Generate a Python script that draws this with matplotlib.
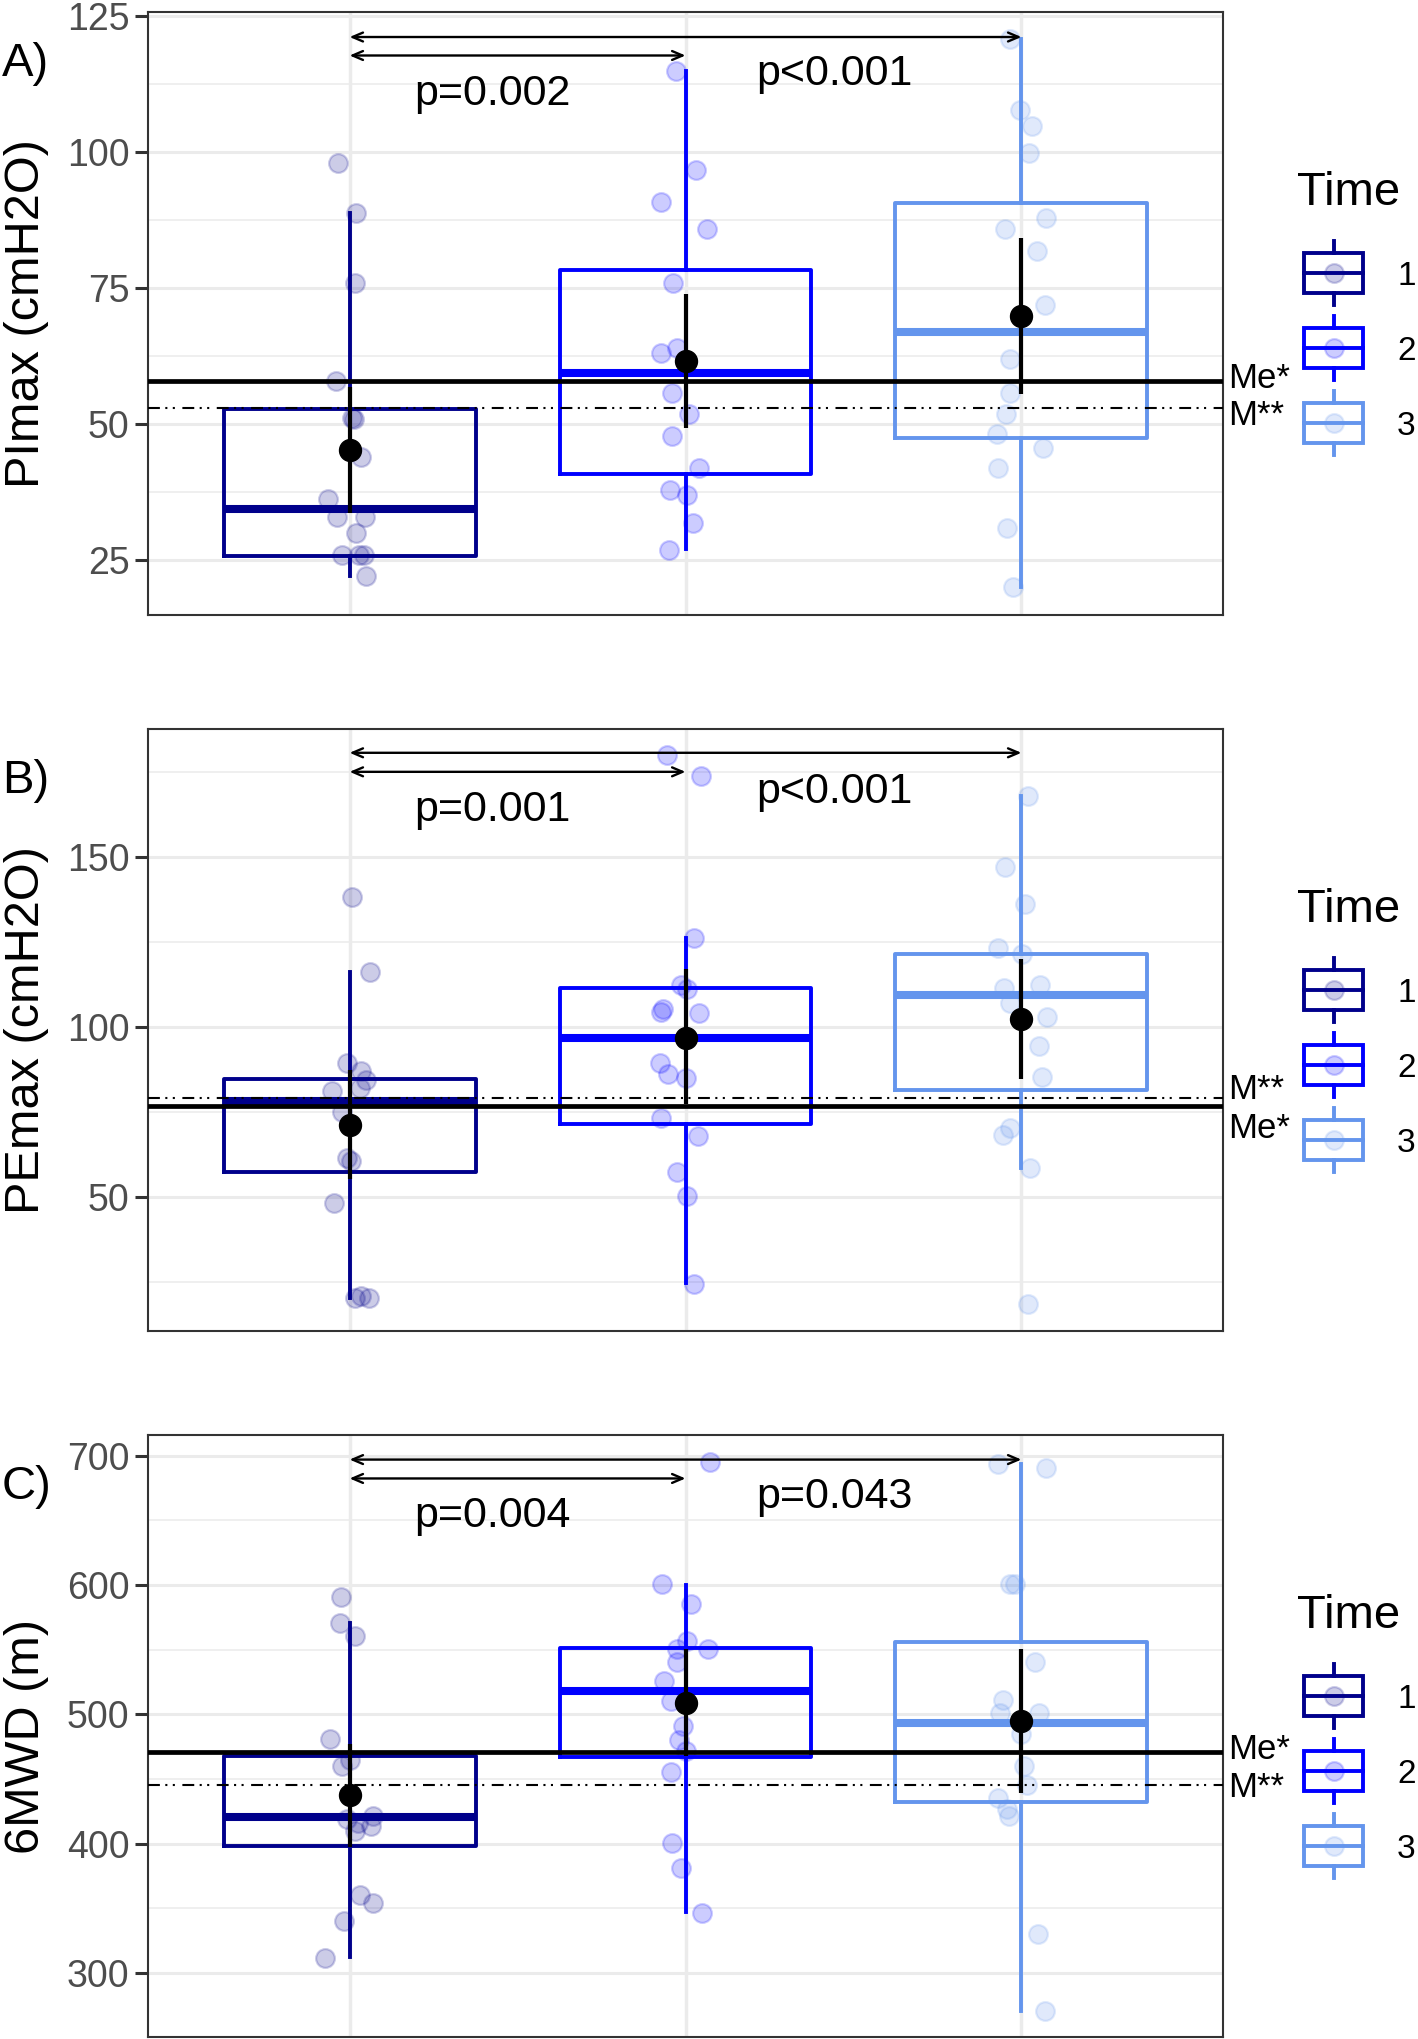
import numpy as np
import matplotlib
matplotlib.use("Agg")
import matplotlib.pyplot as plt
from matplotlib.patches import Rectangle
from matplotlib.transforms import blended_transform_factory

plt.rcParams['font.family'] = ['Liberation Sans', 'DejaVu Sans']

# Groups (Time) and colours
times = ["1", "2", "3"]
time_colors = ["#00008B", "#0000FF", "#6495ED"]

# A) PImax (cmH2O) - individual patients, with horizontal jitter
pimax_t1 = [98.0, 88.8, 75.8, 57.8, 51.0, 50.8, 43.8, 36.1, 32.8, 32.8, 29.8, 25.9, 25.9, 25.9, 21.9]
pimax_t1_jit = [-0.034, 0.019, 0.016, -0.040, 0.008, 0.013, 0.033, -0.065, -0.038, 0.046, 0.019, -0.023, 0.028, 0.042, 0.050]
pimax_t2 = [114.8, 96.7, 90.8, 85.8, 75.8, 62.9, 63.9, 55.7, 51.7, 47.8, 41.9, 37.7, 36.8, 31.8, 26.8]
pimax_t2_jit = [-0.028, 0.030, -0.074, 0.065, -0.037, -0.074, -0.025, -0.040, 0.011, -0.040, 0.040, -0.046, 0.003, 0.021, -0.049]
pimax_t3 = [120.8, 107.7, 104.7, 99.8, 87.8, 85.8, 81.8, 71.8, 61.8, 55.7, 51.7, 48.0, 45.6, 41.9, 30.8, 19.9]
pimax_t3_jit = [-0.035, -0.005, 0.031, 0.023, 0.072, -0.048, 0.046, 0.069, -0.035, -0.033, -0.046, -0.073, 0.065, -0.071, -0.043, -0.024]
pimax_whislo = [22.0, 27.0, 19.9]
pimax_q1 = [25.7, 40.8, 47.3]
pimax_med = [34.3, 59.3, 66.9]
pimax_q3 = [52.6, 78.3, 90.6]
pimax_whishi = [88.8, 114.8, 120.8]
pimax_mean = [45.2, 61.6, 69.8]
pimax_ci_lo = [33.6, 49.2, 55.4]
pimax_ci_hi = [56.8, 73.9, 84.2]
pimax_me = 57.9
pimax_m = 52.8
pimax_p = ["p=0.002", "p<0.001"]

# B) PEmax (cmH2O)
pemax_t1 = [138.1, 116.2, 89.2, 86.9, 84.3, 82.0, 81.2, 75.0, 61.3, 60.5, 48.3, 20.8, 20.3, 20.3]
pemax_t1_jit = [0.007, 0.060, -0.007, 0.033, 0.050, 0.030, -0.052, -0.023, -0.007, 0.004, -0.046, 0.034, 0.015, 0.057]
pemax_t2 = [180.0, 173.8, 126.0, 112.4, 111.0, 105.2, 104.4, 104.1, 89.2, 86.0, 84.9, 73.3, 68.0, 57.3, 50.2, 24.4]
pemax_t2_jit = [-0.056, 0.045, 0.024, -0.013, 0.004, -0.066, -0.074, 0.040, -0.075, -0.052, 0.000, -0.072, 0.037, -0.025, 0.005, 0.026]
pemax_t3 = [168.0, 147.1, 136.0, 123.3, 121.5, 112.4, 111.3, 107.0, 102.9, 94.2, 85.1, 70.3, 68.3, 58.4, 18.3]
pemax_t3_jit = [0.020, -0.049, 0.010, -0.071, 0.001, 0.056, -0.053, -0.033, 0.076, 0.053, 0.060, -0.033, -0.056, 0.026, 0.019]
pemax_whislo = [20.3, 24.7, 58.4]
pemax_q1 = [57.2, 71.5, 81.4]
pemax_med = [78.3, 96.7, 109.3]
pemax_q3 = [84.7, 111.4, 121.5]
pemax_whishi = [116.2, 126.0, 167.8]
pemax_mean = [71.2, 96.7, 102.3]
pemax_ci_lo = [55.2, 77.3, 84.5]
pemax_ci_hi = [87.2, 116.9, 120.0]
pemax_me = 76.7
pemax_m = 79.1
pemax_p = ["p=0.001", "p<0.001"]

# C) 6MWD (m)
mwd6_t1 = [590.7, 570.2, 560.2, 480.8, 464.9, 459.7, 421.2, 419.1, 416.0, 413.9, 409.9, 360.5, 354.4, 340.3, 311.6]
mwd6_t1_jit = [-0.026, -0.029, 0.017, -0.057, 0.000, -0.023, 0.070, -0.009, 0.024, 0.064, 0.017, 0.030, 0.070, -0.016, -0.073]
mwd6_t2 = [695.4, 600.5, 585.2, 556.5, 550.4, 550.4, 540.6, 526.0, 510.1, 490.8, 480.2, 471.6, 455.7, 400.8, 380.9, 346.7]
mwd6_t2_jit = [0.073, -0.069, 0.017, 0.004, -0.025, 0.068, -0.026, -0.065, -0.042, -0.007, -0.019, 0.000, -0.042, -0.040, -0.012, 0.050]
mwd6_t3 = [693.3, 690.2, 600.8, 600.8, 540.6, 510.7, 500.9, 500.9, 484.7, 460.3, 445.0, 435.3, 426.7, 421.2, 330.5, 270.4]
mwd6_t3_jit = [-0.071, 0.072, -0.033, -0.019, 0.041, -0.056, -0.064, 0.052, 0.000, 0.008, 0.016, -0.071, -0.043, -0.037, 0.049, 0.069]
mwd6_whislo = [312.2, 347.0, 270.4]
mwd6_q1 = [398.3, 467.0, 432.5]
mwd6_med = [420.6, 517.7, 493.0]
mwd6_q3 = [467.9, 551.3, 555.6]
mwd6_whishi = [570.2, 599.8, 693.3]
mwd6_mean = [437.4, 508.5, 494.5]
mwd6_ci_lo = [397.7, 467.9, 438.9]
mwd6_ci_hi = [477.0, 550.4, 550.4]
mwd6_me = 471.0
mwd6_m = 445.0
mwd6_p = ["p=0.004", "p=0.043"]

W, H = 1418, 2039
GRID = "#EBEBEB"
BORDER = "#333333"
MDASH = (0, (5.7, 2.6, 1.0, 2.6, 1.0, 3.6))
BOX_LW = 2.8


def draw_panel(ax, pts, jit, whislo, q1, med, q3, whishi, mean, ci_lo, ci_hi,
               me, m, pvals, lay):
    for i, col in enumerate(time_colors):
        pos = i + 1
        stats = [dict(med=med[i], q1=q1[i], q3=q3[i], whislo=whislo[i],
                      whishi=whishi[i], fliers=[])]
        ax.bxp(stats, positions=[pos], widths=0.75, showcaps=False,
               showfliers=False, manage_ticks=False,
               boxprops=dict(color=col, lw=BOX_LW),
               whiskerprops=dict(color=col, lw=BOX_LW),
               medianprops=dict(color=col, lw=5.8, solid_capstyle="butt"),
               zorder=2)
        ax.plot(pos + np.asarray(jit[i]), pts[i], "o", ls="none", ms=13.5,
                color=col, alpha=0.2, mew=1.6, zorder=3)

    # reference lines (median / mean of reference population)
    ax.axhline(me, color="black", lw=3.4, zorder=4)
    ax.axhline(m, color="black", lw=1.5, ls=MDASH, zorder=4)
    tr = blended_transform_factory(ax.transAxes, ax.transData)
    ax.annotate("Me*", xy=(1, me), xycoords=tr, xytext=(3.6, lay["me_off"]),
                textcoords="offset points", fontsize=25, va="baseline",
                annotation_clip=False)
    ax.annotate("M**", xy=(1, m), xycoords=tr, xytext=(3.6, lay["m_off"]),
                textcoords="offset points", fontsize=25, va="baseline",
                annotation_clip=False)

    # mean +/- CI
    mean = np.asarray(mean)
    yerr = [mean - np.asarray(ci_lo), np.asarray(ci_hi) - mean]
    ax.errorbar([1, 2, 3], mean, yerr=yerr, fmt="o", color="black", ms=15.8,
                elinewidth=3.0, capsize=0, zorder=6)

    # pairwise comparisons
    aprops = dict(arrowstyle="<->,head_length=0.75,head_width=0.32",
                  mutation_scale=10, lw=1.7, color="black", shrinkA=0, shrinkB=0)
    ax.annotate("", xy=(3, lay["arrow13"]), xytext=(1, lay["arrow13"]), arrowprops=aprops)
    ax.annotate("", xy=(2, lay["arrow12"]), xytext=(1, lay["arrow12"]), arrowprops=aprops)
    ax.text(1.424, lay["p12_y"], pvals[0], fontsize=31, ha="center", va="baseline")
    ax.text(2.443, lay["p13_y"], pvals[1], fontsize=31, ha="center", va="baseline")

    # axes styling (theme_bw-like)
    ax.set_xlim(0.4, 3.6)
    ax.set_ylim(*lay["ylim"])
    ax.set_yticks(lay["major"])
    ax.set_yticks(lay["minor"], minor=True)
    ax.set_xticks([1, 2, 3])
    ax.tick_params(axis="x", length=0, labelbottom=False)
    ax.tick_params(axis="y", which="major", length=9.4, width=2.2, color=BORDER,
                   labelsize=27, labelcolor="#4D4D4D", pad=4)
    ax.tick_params(axis="y", which="minor", length=0)
    ax.grid(axis="y", which="major", color=GRID, lw=2.2)
    ax.grid(axis="y", which="minor", color=GRID, lw=1.1)
    ax.grid(axis="x", which="major", color=GRID, lw=2.5)
    ax.set_axisbelow(True)
    for sp in ax.spines.values():
        sp.set_color(BORDER)
        sp.set_linewidth(1.5)
    ax.text(-0.1126, 0.5, lay["ylabel"], transform=ax.transAxes, rotation=90,
            fontsize=35, ha="center", va="center")


def draw_legend(ov, top):
    ov.text(1297, top + 193, "Time", fontsize=34, ha="left", va="baseline")
    for i, (lab, col) in enumerate(zip(times, time_colors)):
        yc = top + 261 + 75 * i
        ov.add_patch(Rectangle((1304, yc - 20), 59, 40, fill=False, ec=col, lw=BOX_LW))
        ov.plot([1304, 1363], [yc, yc], color=col, lw=BOX_LW)
        ov.plot([1333.5, 1333.5], [yc - 32, yc - 20], color=col, lw=BOX_LW)
        ov.plot([1333.5, 1333.5], [yc + 20, yc + 32], color=col, lw=BOX_LW)
        ov.plot(1333.5, yc, "o", ms=13.5, color=col, alpha=0.2, mew=1.6)
        ov.text(1397, yc + 12, lab, fontsize=24, ha="left", va="baseline")


def main():
    fig = plt.figure(figsize=(W / 100, H / 100), dpi=100)

    panels = [
        dict(tag="A)", top=12, bottom=615, ylabel="PImax (cmH2O)",
             ylim=(14.8, 125.7), major=[25, 50, 75, 100, 125],
             minor=[37.5, 62.5, 87.5, 112.5],
             arrow13=121.1, arrow12=117.7, p12_y=108.6, p13_y=112.2,
             me_off=-5.5, m_off=-12.0,
             data=([pimax_t1, pimax_t2, pimax_t3],
                   [pimax_t1_jit, pimax_t2_jit, pimax_t3_jit],
                   pimax_whislo, pimax_q1, pimax_med, pimax_q3, pimax_whishi,
                   pimax_mean, pimax_ci_lo, pimax_ci_hi, pimax_me, pimax_m, pimax_p)),
        dict(tag="B)", top=729, bottom=1331, ylabel="PEmax (cmH2O)",
             ylim=(10.5, 187.6), major=[50, 100, 150], minor=[25, 75, 125, 175],
             arrow13=180.6, arrow12=175.0, p12_y=160.5, p13_y=165.7,
             me_off=-23.0, m_off=-1.2,
             data=([pemax_t1, pemax_t2, pemax_t3],
                   [pemax_t1_jit, pemax_t2_jit, pemax_t3_jit],
                   pemax_whislo, pemax_q1, pemax_med, pemax_q3, pemax_whishi,
                   pemax_mean, pemax_ci_lo, pemax_ci_hi, pemax_me, pemax_m, pemax_p)),
        dict(tag="C)", top=1435, bottom=2037, ylabel="6MWD (m)",
             ylim=(250.5, 715.9), major=[300, 400, 500, 600, 700],
             minor=[350, 450, 550, 650],
             arrow13=696.9, arrow12=682.3, p12_y=644.4, p13_y=659.7,
             me_off=-5.4, m_off=-8.3,
             data=([mwd6_t1, mwd6_t2, mwd6_t3],
                   [mwd6_t1_jit, mwd6_t2_jit, mwd6_t3_jit],
                   mwd6_whislo, mwd6_q1, mwd6_med, mwd6_q3, mwd6_whishi,
                   mwd6_mean, mwd6_ci_lo, mwd6_ci_hi, mwd6_me, mwd6_m, mwd6_p)),
    ]

    # overlay in pixel units for panel tags and legends
    ov = fig.add_axes([0, 0, 1, 1], zorder=-1)
    ov.set_xlim(0, W)
    ov.set_ylim(H, 0)
    ov.axis("off")

    for lay in panels:
        rect = [148 / W, 1 - lay["bottom"] / H, 1075 / W, (lay["bottom"] - lay["top"]) / H]
        ax = fig.add_axes(rect)
        draw_panel(ax, *lay["data"], lay)
        ov.text(2, lay["top"] + 64, lay["tag"], fontsize=34, ha="left", va="baseline")
        draw_legend(ov, lay["top"])

    fig.savefig("out.png", dpi=100)


if __name__ == "__main__":
    main()
